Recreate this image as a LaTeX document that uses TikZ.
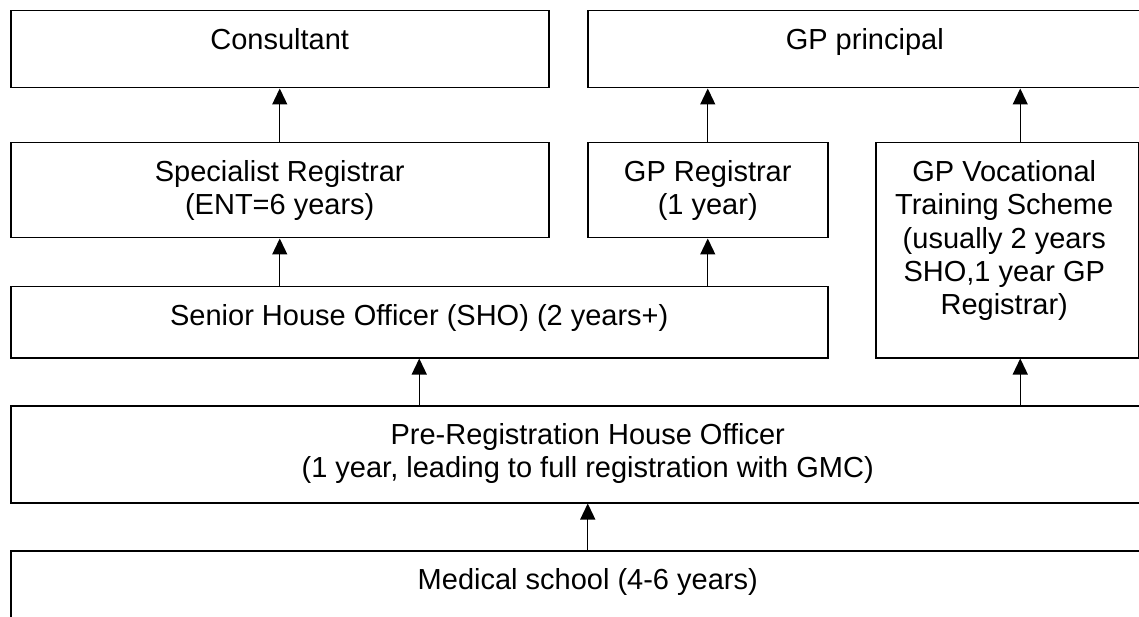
\documentclass[tikz,border=0pt]{standalone}
\usepackage{fontspec}
\setmainfont{Liberation Sans}
\usetikzlibrary{arrows.meta}

\begin{document}
\begin{tikzpicture}[x=1pt, y=-1pt, font=\fontsize{29pt}{33.4pt}\selectfont,
    box/.style={draw, line width=1.5pt, anchor=north west, inner sep=0pt},
    txt/.style={anchor=north, yshift=-18pt, inner sep=0pt, align=center},
    arr/.style={line width=1.3pt, -{Triangle[length=16pt, width=15pt]}}]
    \useasboundingbox (0,0) rectangle (1139,617);
    \clip (0,0) rectangle (1139,617);
    \node[box, minimum width=538pt, minimum height=77pt] (cons) at (10,10) {};
    \node[box, minimum width=554pt, minimum height=77pt] (gpp) at (587,10) {};
    \node[box, minimum width=538pt, minimum height=95pt] (spr) at (10,142) {};
    \node[box, minimum width=240pt, minimum height=95pt] (gpr) at (587,142) {};
    \node[box, minimum width=263pt, minimum height=215pt] (vts) at (875,142) {};
    \node[box, minimum width=817pt, minimum height=71pt] (sho) at (10,286) {};
    \node[box, minimum width=1154pt, minimum height=97pt] (prho) at (10,405) {};
    \node[box, minimum width=1154pt, minimum height=120pt] (med) at (10,550) {};
    % texts, set at the top of each box
    \node[txt] (cons-txt) at (cons.north) {Consultant};
    \node[txt] (gpp-txt) at (gpp.north) {GP principal};
    \node[txt] (spr-txt) at (spr.north) {Specialist Registrar\\(ENT=6 years)};
    \node[txt] (gpr-txt) at (gpr.north) {GP Registrar\\(1 year)};
    \node[txt] (vts-txt) at ([xshift=-3pt]vts.north) {GP Vocational\\Training Scheme\\(usually 2 years\\SHO,1 year GP\\Registrar)};
    \node[txt] (sho-txt) at (sho.north) {Senior House Officer (SHO) (2 years+)};
    \node[txt] (prho-txt) at (prho.north) {Pre-Registration House Officer\\(1 year, leading to full registration with GMC)};
    \node[txt] (med-txt) at (med.north) {Medical school (4-6 years)};
    % arrows
    \draw[arr] (spr) -- (cons);
    \draw[arr] (gpr.north) -- (gpr.north |- gpp.south);
    \draw[arr] ([xshift=13pt]vts.north) -- ([xshift=13pt]vts.north |- gpp.south);
    \draw[arr] (spr.south |- sho.north) -- (spr.south);
    \draw[arr] (gpr.south |- sho.north) -- (gpr.south);
    \draw[arr] (sho.south |- prho.north) -- (sho.south);
    \draw[arr] ([xshift=13pt]vts.south |- prho.north) -- ([xshift=13pt]vts.south);
    \draw[arr] (med) -- (prho);
\end{tikzpicture}
\end{document}
